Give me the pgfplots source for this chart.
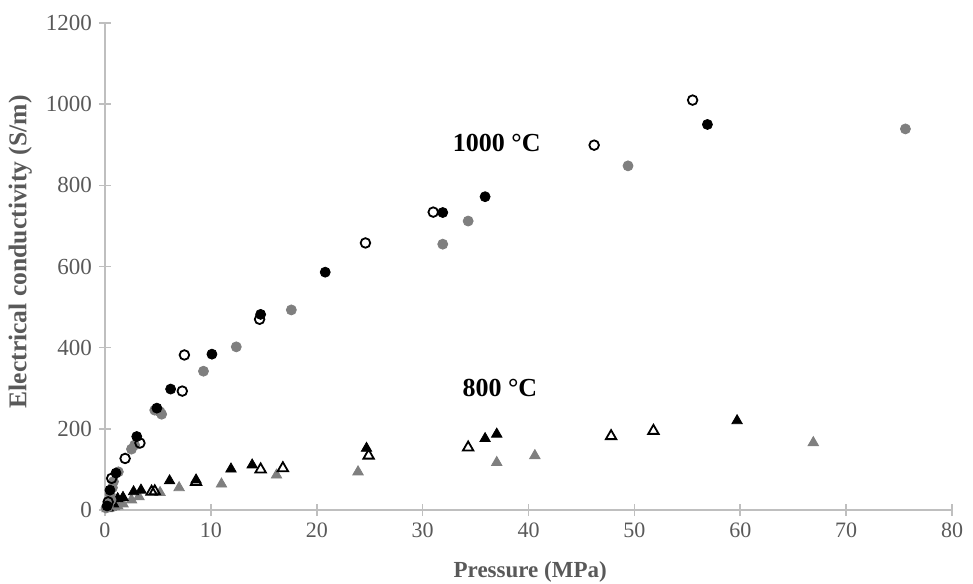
\documentclass[border=0pt]{standalone}
\usepackage{pgfplots}
\pgfplotsset{compat=1.18}
\usepackage{fontspec}
\setmainfont{Liberation Serif}
\definecolor{axgray}{HTML}{BFBFBF}
\definecolor{txtgray}{HTML}{595959}
\definecolor{ptgray}{HTML}{7F7F7F}
\begin{document}
\begin{tikzpicture}
\path[use as bounding box] (-52.5pt,-36.5pt) rectangle (434pt,255pt);
\begin{axis}[
  at={(0,0)}, anchor=south west,
  scale only axis,
  width=423.5pt, height=243.5pt,
  xmin=0, xmax=80, ymin=0, ymax=1200,
  xtick={0,10,...,80}, ytick={0,200,...,1200},
  axis x line=bottom, axis y line=left,
  axis line style={-, axgray, line width=0.8pt},
  tick style={axgray, line width=0.8pt},
  major tick length=6pt,
  tick align=center,
  x tick label style={font=\fontsize{11}{13}\selectfont, text=txtgray},
  y tick label style={font=\fontsize{11.5}{13}\selectfont, text=txtgray},
  /pgf/number format/assume math mode=true,
  /pgf/number format/1000 sep={},
  xlabel={Pressure (MPa)},
  ylabel={Electrical conductivity (S/m)},
  every axis x label/.style={at={(axis description cs:0.502,-0.127)}, anchor=center, font=\bfseries\fontsize{11.5}{13}\selectfont, text=txtgray},
  every axis y label/.style={at={(axis description cs:-0.1,0.53)}, rotate=90, anchor=center, font=\bfseries\fontsize{12.8}{14}\selectfont, text=txtgray},
  clip=false,
]
% 800 C gray triangles
\addplot[only marks, mark=triangle*, mark size=3pt, mark options={fill=ptgray, draw=ptgray}] coordinates {
(0.2,3)(0.4,5)(0.6,6)(0.9,8)(1.2,10)(1.7,15)(2.5,25)(3.2,33)(5.2,43)(7.0,55)(11.0,64)(16.2,86)(23.9,94)(37.0,117)(40.6,134)(66.9,166)
};
% 800 C black triangles
\addplot[only marks, mark=triangle*, mark size=3pt, mark options={fill=black, draw=black}] coordinates {
(0.3,5)(0.8,15)(1.2,28)(1.7,31)(2.7,45)(3.4,49)(6.1,72)(8.6,74)(11.9,101)(13.9,111)(24.7,152)(35.9,176)(37.0,187)(59.7,220)
};
% 800 C open triangles
\addplot[only marks, mark=triangle, mark size=3pt, mark options={draw=black, line width=0.9pt, fill=white}] coordinates {
(4.4,45)(4.7,46)(8.6,69)(14.7,100)(16.8,103)(24.9,134)(34.3,154)(47.8,182)(51.8,195)
};
% 1000 C gray filled circles
\addplot[only marks, mark=*, mark size=2.5pt, mark options={fill=ptgray, draw=ptgray}] coordinates {
(0.1,5)(0.3,8)(0.4,18)(0.57,25)(0.5,38)(0.7,55)(0.8,70)(1.26,94)(2.5,150)(2.8,160)(4.7,246)(5.2,242)(5.35,236)(9.3,342)(12.4,402)(17.6,493)(31.9,655)(34.3,712)(49.4,848)(75.6,939)
};
% 1000 C black filled circles
\addplot[only marks, mark=*, mark size=2.5pt, mark options={fill=black, draw=black}] coordinates {
(0.2,10)(0.47,49)(1.04,91)(3.0,181)(4.9,251)(6.2,298)(10.1,384)(14.7,482)(20.8,586)(31.9,733)(35.9,772)(56.9,950)
};
% 1000 C open circles
\addplot[only marks, mark=o, mark size=2.4pt, mark options={draw=black, line width=0.9pt, fill=white}] coordinates {
(0.3,20)(0.63,78)(1.9,127)(3.3,165)(7.3,293)(7.5,382)(14.6,470)(24.6,658)(31.0,734)(46.2,899)(55.5,1010)
};
\node[font=\bfseries\fontsize{13}{15}\selectfont] at (axis cs:37.0,904) {1000 °C};
\node[font=\bfseries\fontsize{13}{15}\selectfont] at (axis cs:37.3,300) {800 °C};
\end{axis}
\end{tikzpicture}
\end{document}
